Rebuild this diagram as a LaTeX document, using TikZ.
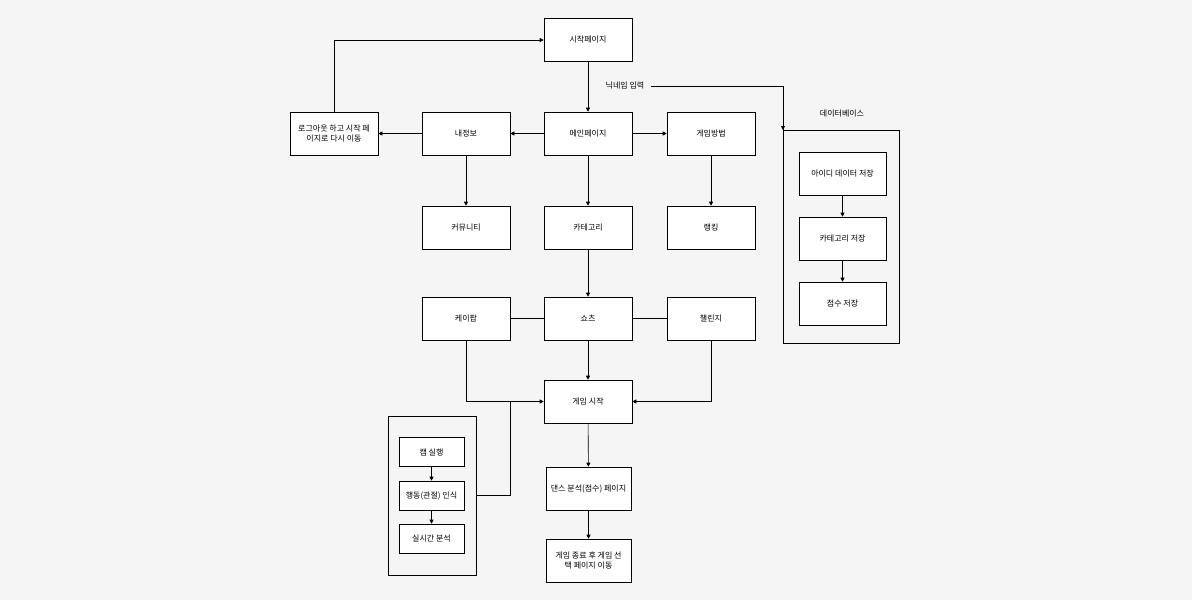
\documentclass[tikz,border=0pt]{standalone}
\usepackage{fontspec}
\setmainfont{Noto Sans CJK KR}
\usetikzlibrary{arrows.meta}
\begin{document}
\begin{tikzpicture}[x=1pt,y=-1pt,
  bx/.style={draw=black,fill=white,minimum width=88pt,minimum height=43pt,inner sep=1pt,font=\fontsize{8}{10.5}\selectfont,align=center,line width=0.6pt},
  sb/.style={bx,minimum width=65pt,minimum height=29pt},
  ar/.style={-{Triangle[length=4pt,width=4pt]},line width=0.6pt},
  ln/.style={line width=0.6pt},
  lbl/.style={font=\fontsize{8}{10}\selectfont,inner sep=1pt}]
\fill[white!96!black] (0,0) rectangle (1192,600);
\useasboundingbox (0,0) rectangle (1192,600);
\node[bx] (start) at (588,40) {시작페이지};
\node[bx] (main) at (588,133.5) {메인페이지};
\node[bx] (info) at (466,133.5) {내정보};
\node[bx] (how) at (711,133.5) {게임방법};
\node[bx] (logout) at (334,133.5) {로그아웃 하고 시작 페\\이지로 다시 이동};
\node[bx] (comm) at (466,227.5) {커뮤니티};
\node[bx] (cat) at (588,227.5) {카테고리};
\node[bx] (rank) at (711,227.5) {랭킹};
\node[bx] (kpop) at (466,318.5) {케이팝};
\node[bx] (shorts) at (588,318.5) {쇼츠};
\node[bx] (chal) at (711,318.5) {챌린지};
\node[bx] (game) at (588,401.5) {게임 시작};
\node[bx,minimum width=85pt] (dance) at (588.5,488.5) {댄스 분석(점수) 페이지};
\node[bx,minimum width=85pt] (end) at (588.5,560.5) {게임 종료 후 게임 선\\택 페이지 이동};
\node[draw,line width=0.6pt,minimum width=88pt,minimum height=159pt,inner sep=0pt] (cam) at (432,495.5) {};
\node[sb] (c1) at (431.5,452) {캠 실행};
\node[sb] (c2) at (431.5,495.5) {행동(관절) 인식};
\node[sb] (c3) at (431.5,538.5) {실시간 분석};
\node[draw,line width=0.6pt,minimum width=116pt,minimum height=213pt,inner sep=0pt] (db) at (841,236.5) {};
\node[lbl] (dbl) at (842,114) {데이터베이스};
\node[bx,minimum width=87pt] (d1) at (842.5,173.5) {아이디 데이터 저장};
\node[bx,minimum width=87pt] (d2) at (842.5,238.5) {카테고리 저장};
\node[bx,minimum width=87pt] (d3) at (842.5,303.5) {점수 저장};
\node[lbl,fill=white!96!black] (nick) at (625,86) {닉네임 입력};
\coordinate (dbin) at (783,130);
\draw[ar] (start) -- (main);
\draw[ln] (nick.east) ++(5,0) -| (dbin);
\draw[ar] (783,120) -- (dbin);
\draw[ar] (main) -- (info);
\draw[ar] (main) -- (how);
\draw[ar] (info) -- (logout);
\draw[ar] (logout.north) |- (start.west);
\draw[ar] (info) -- (comm);
\draw[ar] (main) -- (cat);
\draw[ar] (how) -- (rank);
\draw[ar] (cat) -- (shorts);
\draw[ln] (kpop) -- (shorts);
\draw[ln] (shorts) -- (chal);
\draw[ar] (shorts) -- (game);
\draw[ar] (kpop.south) |- (game.west);
\draw[ar] (chal.south) |- (game.east);
\draw[ln] (cam.east |- c2) -| (510,401.5);
\draw[ar] (game) -- (dance);
\draw[ar] (dance) -- (end);
\draw[ar] (c1) -- (c2);
\draw[ar] (c2) -- (c3);
\draw[ar] (d1) -- (d2);
\draw[ar] (d2) -- (d3);
\end{tikzpicture}
\end{document}
